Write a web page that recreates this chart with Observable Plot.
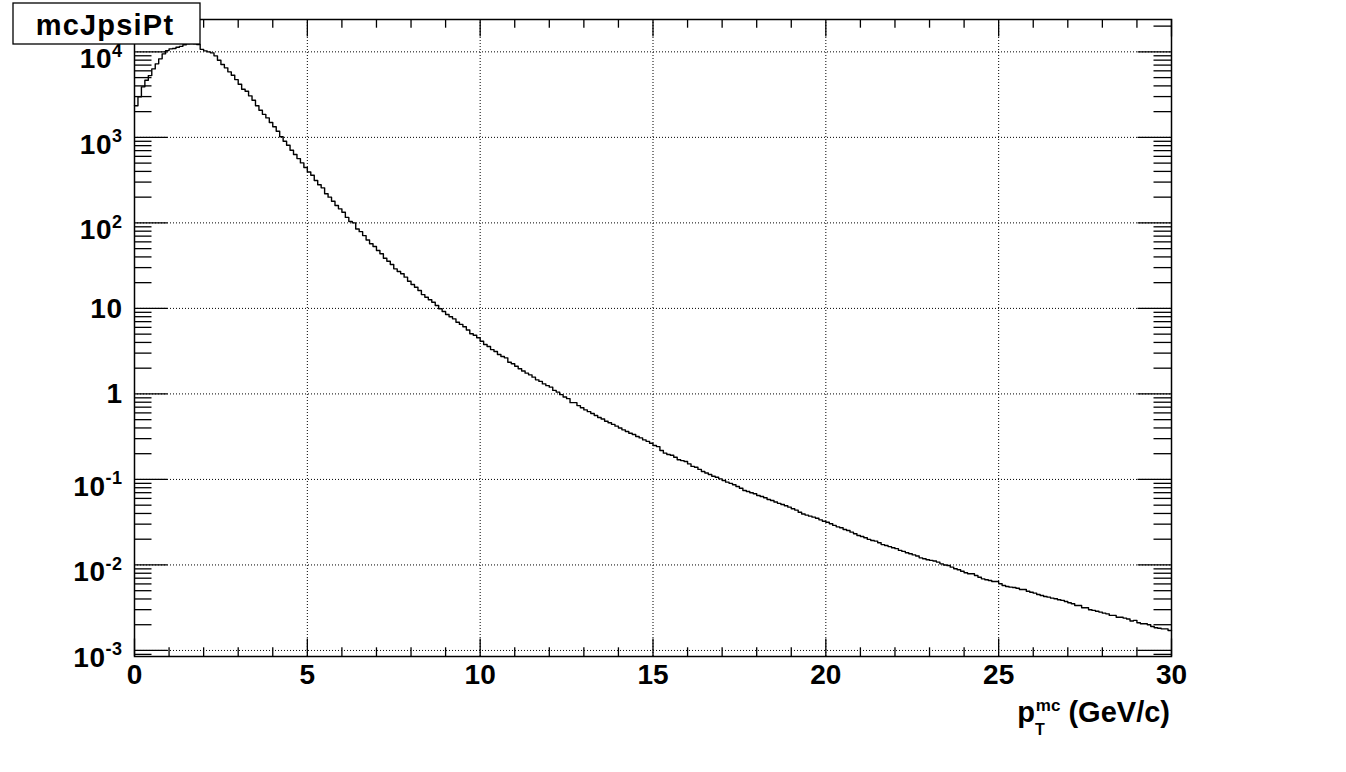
<!DOCTYPE html>
<html>
<head>
<meta charset="utf-8">
<script src="https://cdn.jsdelivr.net/npm/d3@7"></script>
<script src="https://cdn.jsdelivr.net/npm/@observablehq/plot@0.6"></script>
<style>
  html, body { margin: 0; padding: 0; background: #fff; }
  #chart { width: 1346px; height: 772px; }
</style>
</head>
<body>
<div id="chart"></div>
<script>
// ---------------- data ----------------
const histTitle = "mcJpsiPt";
const xMin = 0, xMax = 30, nBins = 300;

// bin contents (300 bins of 0.1 GeV/c)
const counts = [
  // 0-18
  2340, 2980, 3900, 4660, 5280, 6320, 7240, 8280, 9480, 10350,
  10840, 10940, 11320, 11600, 12100, 12400, 12500, 12400, 12200,
  // 19-47
  10700, 10270, 10000, 9730, 8980, 7980, 7110, 6500, 5840, 5330,
  4740, 4180, 3650, 3460, 3060, 2720, 2340, 2080, 1860, 1690,
  1490, 1330, 1180, 1015, 900, 809, 708, 630, 565,
  // 48-98
  503, 444, 393, 360, 313, 279, 257, 219, 200, 179,
  160, 146, 133, 116, 104, 100, 85, 79, 71, 63,
  57, 53, 47.5, 43.5, 38.6, 35.6, 32.6, 29, 27, 25.4,
  23.2, 20.8, 19, 17.7, 16.2, 14.5, 13.5, 12.6, 11.8, 10.8,
  9.9, 9.2, 8.5, 8.0, 7.55, 6.9, 6.5, 6.1, 5.6, 5.05, 4.85,
  // 99-151
  4.53, 4.13, 3.78, 3.58, 3.30, 3.13, 2.89, 2.74, 2.64, 2.35,
  2.25, 2.11, 1.97, 1.85, 1.75, 1.67, 1.57, 1.46, 1.40, 1.31,
  1.25, 1.20, 1.10, 1.05, 0.98, 0.92, 0.88, 0.79, 0.79, 0.73,
  0.69, 0.65, 0.62, 0.59, 0.56, 0.53, 0.51, 0.48, 0.46, 0.44,
  0.42, 0.40, 0.38, 0.363, 0.347, 0.335, 0.318, 0.306, 0.290, 0.279,
  0.265, 0.249, 0.242,
  // 152-171
  0.218, 0.203, 0.196, 0.192, 0.182, 0.170, 0.166, 0.162, 0.152, 0.142,
  0.139, 0.131, 0.124, 0.119, 0.114, 0.109, 0.106, 0.1016, 0.097, 0.093,
  // 172-212
  0.090, 0.0865, 0.0827, 0.079, 0.0743, 0.0723, 0.0698, 0.0679, 0.0649, 0.0632,
  0.0610, 0.0583, 0.0568, 0.0545, 0.0525, 0.0509, 0.0492, 0.0474, 0.0454, 0.0438,
  0.0414, 0.0395, 0.0383, 0.0372, 0.0362, 0.0352, 0.0337, 0.0325, 0.0316, 0.0303,
  0.0290, 0.0279, 0.0272, 0.0260, 0.0253, 0.0242, 0.0232, 0.0221, 0.0215, 0.0208,
  0.0199,
  // 213-299
  0.0193, 0.0190, 0.0182, 0.0173, 0.0169, 0.0164, 0.0159, 0.0155, 0.0148, 0.0144,
  0.0139, 0.0135, 0.0131, 0.0127, 0.0121, 0.0118, 0.0115, 0.0113, 0.0111, 0.0108,
  0.0103, 0.0100, 0.00986, 0.00942, 0.00901, 0.00877, 0.00845, 0.00809, 0.00788, 0.00788,
  0.00753, 0.00719, 0.00688, 0.00670, 0.00658, 0.00641, 0.00641, 0.00602, 0.00575, 0.00560,
  0.00550, 0.00545, 0.00535, 0.00517, 0.00517, 0.00493, 0.00480, 0.00468, 0.00452, 0.00440,
  0.00428, 0.00420, 0.00409, 0.00402, 0.00392, 0.00385, 0.00374, 0.00361, 0.00352, 0.00336,
  0.00336, 0.00316, 0.00316, 0.00299, 0.00294, 0.00288, 0.00281, 0.00273, 0.00268, 0.00257,
  0.00257, 0.00245, 0.00245, 0.00239, 0.00233, 0.00221, 0.00225, 0.00211, 0.00205, 0.00205,
  0.00200, 0.00191, 0.00184, 0.00182, 0.00179, 0.00179, 0.00171
];

const xMajorTicks = [0, 5, 10, 15, 20, 25, 30];
const xGridTicks = [5, 10, 15, 20, 25];
const yDecadeExponents = [-3, -2, -1, 0, 1, 2, 3, 4];
const yDomain = [8.5e-4, 2.39e4];

// ---------------- layout ----------------
const W = 1346, H = 772;
const mL = 134, mR = 175, mT = 19, mB = 116;
const fw = W - mL - mR, fh = H - mT - mB;
const majX = 17.5, minX = 8.7, majY = 33.5, minY = 17.5;
const FONT = "'Liberation Sans', Arial, Helvetica, sans-serif";

// ---------------- derived tables ----------------
const binW = (xMax - xMin) / nBins;
const histPoints = counts.map((c, i) => ({x: xMin + i * binW, y: c}));
histPoints.push({x: xMax, y: counts[counts.length - 1]});

const xMinorTicks = d3.range(xMin, xMax + 1, 1).filter(v => v % 5 !== 0);
const yMajorTicks = yDecadeExponents.map(e => Math.pow(10, e));
const yMinorTicks = [];
for (let k = -4; k <= 4; k++) for (let m = 2; m <= 9; m++) {
  const v = m * Math.pow(10, k);
  if (v >= yDomain[0] && v <= yDomain[1]) yMinorTicks.push(v);
}

const tickStyle = {stroke: "black", strokeWidth: 1.3};

const plot = Plot.plot({
  width: W, height: H,
  marginLeft: mL, marginRight: mR, marginTop: mT, marginBottom: mB,
  x: {domain: [xMin, xMax], axis: null},
  y: {type: "log", domain: yDomain, axis: null},
  style: {background: "white", color: "black", fontFamily: FONT},
  marks: [
    Plot.ruleX(xGridTicks, {x: d => d, stroke: "black", strokeWidth: 1, strokeDasharray: "1,2"}),
    Plot.ruleY(yMajorTicks, {y: d => d, stroke: "black", strokeWidth: 1, strokeDasharray: "1,2"}),
    Plot.line(histPoints, {x: "x", y: "y", curve: "step-after", stroke: "black", strokeWidth: 1.4}),
    // x ticks bottom & top
    Plot.tickX(xMajorTicks, {x: d => d, insetTop: fh - majX, ...tickStyle}),
    Plot.tickX(xMajorTicks, {x: d => d, insetBottom: fh - majX, ...tickStyle}),
    Plot.tickX(xMinorTicks, {x: d => d, insetTop: fh - minX, ...tickStyle}),
    Plot.tickX(xMinorTicks, {x: d => d, insetBottom: fh - minX, ...tickStyle}),
    // y ticks left & right
    Plot.tickY(yMajorTicks, {y: d => d, insetRight: fw - majY, ...tickStyle}),
    Plot.tickY(yMajorTicks, {y: d => d, insetLeft: fw - majY, ...tickStyle}),
    Plot.tickY(yMinorTicks, {y: d => d, insetRight: fw - minY, ...tickStyle}),
    Plot.tickY(yMinorTicks, {y: d => d, insetLeft: fw - minY, ...tickStyle}),
    Plot.frame({stroke: "black", strokeWidth: 1.5}),
    Plot.text(xMajorTicks, {
      x: d => d, text: d => String(d), frameAnchor: "bottom", dy: 27.5,
      lineAnchor: "bottom", textAnchor: "middle", fontSize: 28, fontWeight: "bold", fill: "black"
    })
  ]
});

document.getElementById("chart").appendChild(plot);

// ---------------- y tick labels with superscripts ----------------
const svg = d3.select(plot);
const ys = plot.scale("y");
const labels = svg.append("g")
  .attr("font-family", FONT).attr("font-weight", "bold").attr("fill", "black")
  .attr("letter-spacing", 0.5);
for (const e of yDecadeExponents) {
  const py = ys.apply(Math.pow(10, e));
  const t = labels.append("text").attr("x", mL - 11.5).attr("text-anchor", "end").attr("font-size", 28);
  if (e === 0 || e === 1) {
    t.attr("y", py + 10).text(e === 0 ? "1" : "10");
  } else {
    t.attr("y", py + 17);
    t.append("tspan").text("10");
    t.append("tspan").attr("font-size", 18).attr("dy", -11.5).text(String(e));
  }
}

// ---------------- x axis title ----------------
const xt = svg.append("text")
  .attr("x", mL + fw - 1).attr("y", 722)
  .attr("text-anchor", "end")
  .attr("font-family", FONT).attr("font-weight", "bold").attr("font-size", 29).attr("fill", "black");
xt.append("tspan").text("p");
xt.append("tspan").attr("font-size", 16).attr("dy", 13).text("T");
xt.append("tspan").attr("font-size", 17).attr("dx", -9).attr("dy", -24).text("mc");
xt.append("tspan").attr("dy", 11).text(" (GeV/c)");

// ---------------- histogram title box ----------------
svg.append("rect")
  .attr("x", 13).attr("y", 3).attr("width", 187).attr("height", 41)
  .attr("fill", "white").attr("stroke", "black").attr("stroke-width", 1.3);
svg.append("text")
  .attr("x", 105).attr("y", 35).attr("text-anchor", "middle")
  .attr("font-family", FONT).attr("font-weight", "bold").attr("font-size", 29)
  .attr("letter-spacing", 1.2).attr("fill", "black")
  .text(histTitle);
</script>
</body>
</html>
